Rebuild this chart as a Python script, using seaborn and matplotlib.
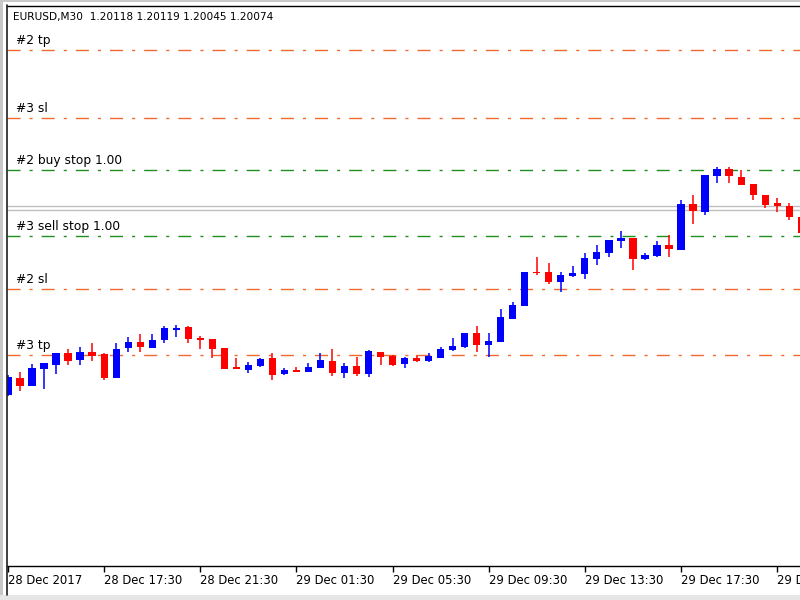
import matplotlib
matplotlib.use("Agg")
import matplotlib.pyplot as plt
import seaborn as sns
import pandas as pd
from matplotlib.lines import Line2D
from matplotlib.patches import Rectangle

# ---- data (EURUSD M30) ----
opens = [1.19519, 1.19570, 1.19546, 1.19597, 1.19609, 1.19645, 1.19624, 1.19648, 1.19642, 1.19570,
         1.19660, 1.19678, 1.19660, 1.19684, 1.19714, 1.19723, 1.19690, 1.19687, 1.19660, 1.19603,
         1.19594, 1.19606, 1.19630, 1.19582, 1.19594, 1.19588, 1.19600, 1.19621, 1.19585, 1.19606,
         1.19582, 1.19648, 1.19636, 1.19612, 1.19630, 1.19621, 1.19630, 1.19654, 1.19663, 1.19705,
         1.19669, 1.19678, 1.19747, 1.19786, 1.19888, 1.19888, 1.19858, 1.19876, 1.19882, 1.19927,
         1.19945, 1.19981, 1.19990, 1.19927, 1.19936, 1.19969, 1.19954, 1.20092, 1.20068, 1.20176,
         1.20197, 1.20173, 1.20152, 1.20119, 1.20095, 1.20086, 1.20053]
highs = [1.19579, 1.19588, 1.19612, 1.19615, 1.19645, 1.19657, 1.19663, 1.19675, 1.19645, 1.19675,
         1.19693, 1.19702, 1.19702, 1.19726, 1.19729, 1.19726, 1.19696, 1.19687, 1.19660, 1.19630,
         1.19618, 1.19630, 1.19645, 1.19600, 1.19603, 1.19615, 1.19645, 1.19657, 1.19615, 1.19633,
         1.19654, 1.19648, 1.19639, 1.19633, 1.19639, 1.19645, 1.19663, 1.19690, 1.19705, 1.19726,
         1.19705, 1.19777, 1.19798, 1.19888, 1.19933, 1.19915, 1.19888, 1.19906, 1.19945, 1.19969,
         1.19984, 1.20011, 1.19990, 1.19945, 1.19981, 1.19999, 1.20104, 1.20119, 1.20179, 1.20203,
         1.20203, 1.20194, 1.20152, 1.20119, 1.20110, 1.20095, 1.20053]
lows = [1.19516, 1.19531, 1.19546, 1.19537, 1.19582, 1.19609, 1.19609, 1.19621, 1.19564, 1.19570,
        1.19648, 1.19648, 1.19660, 1.19675, 1.19693, 1.19675, 1.19657, 1.19630, 1.19597, 1.19597,
        1.19585, 1.19603, 1.19564, 1.19579, 1.19588, 1.19588, 1.19600, 1.19576, 1.19570, 1.19576,
        1.19573, 1.19609, 1.19606, 1.19600, 1.19618, 1.19618, 1.19630, 1.19651, 1.19660, 1.19648,
        1.19633, 1.19678, 1.19747, 1.19786, 1.19879, 1.19852, 1.19828, 1.19873, 1.19867, 1.19909,
        1.19933, 1.19960, 1.19894, 1.19924, 1.19933, 1.19933, 1.19954, 1.20032, 1.20059, 1.20155,
        1.20155, 1.20149, 1.20104, 1.20080, 1.20068, 1.20044, 1.19999]
closes = [1.19573, 1.19546, 1.19600, 1.19615, 1.19645, 1.19621, 1.19648, 1.19636, 1.19570, 1.19657,
          1.19678, 1.19663, 1.19684, 1.19720, 1.19720, 1.19687, 1.19684, 1.19657, 1.19597, 1.19597,
          1.19609, 1.19627, 1.19579, 1.19594, 1.19588, 1.19603, 1.19624, 1.19585, 1.19606, 1.19582,
          1.19651, 1.19633, 1.19609, 1.19630, 1.19621, 1.19636, 1.19657, 1.19666, 1.19705, 1.19669,
          1.19681, 1.19753, 1.19789, 1.19888, 1.19885, 1.19858, 1.19879, 1.19885, 1.19930, 1.19948,
          1.19984, 1.19990, 1.19927, 1.19939, 1.19969, 1.19957, 1.20092, 1.20071, 1.20179, 1.20197,
          1.20176, 1.20149, 1.20119, 1.20089, 1.20086, 1.20053, 1.20005]

tick_bars = [0, 8, 16, 24, 32, 40, 48, 56, 64]
tick_labels = ["28 Dec 2017", "28 Dec 17:30", "28 Dec 21:30", "29 Dec 01:30", "29 Dec 05:30",
               "29 Dec 09:30", "29 Dec 13:30", "29 Dec 17:30", "29 Dec 21:30"]

order_names = ["#2 tp", "#3 sl", "#2 buy stop 1.00", "#3 sell stop 1.00", "#2 sl", "#3 tp"]
order_prices = [1.20554, 1.20350, 1.20194, 1.19996, 1.19837, 1.19639]
order_kinds = ["level", "level", "pending", "pending", "level", "level"]

bid_price = 1.20074
ask_price = 1.20086
header = "EURUSD,M30  1.20118 1.20119 1.20045 1.20074"

# ---- style ----
sns.set_style("white")
plt.rcParams["font.family"] = ["DejaVu Sans"]

df = pd.DataFrame({"open": opens, "high": highs, "low": lows, "close": closes})
df["bar"] = range(len(df))
df["bull"] = df["close"] >= df["open"]
df["color"] = df["bull"].map({True: "#0000ff", False: "#ff0000"})

fig = plt.figure(figsize=(8, 6), dpi=100)
fig.patch.set_facecolor("white")
W, H = 800.0, 600.0
ax = fig.add_axes([7 / W, 1 - 566 / H, 793 / W, 560 / H])
ax.set_facecolor("white")

level_color = "#ee6a2e"
pending_color = "#1f8f1f"
dash = (9.4, 6.5, 2.2, 6.5)

# order levels
for name, price, kind in zip(order_names, order_prices, order_kinds):
    col = pending_color if kind == "pending" else level_color
    ax.axhline(price, color=col, lw=1.0, dashes=dash, zorder=1)
    ax.annotate(name, xy=(9 / 793, price), xycoords=("axes fraction", "data"),
                xytext=(0, 2.0), textcoords="offset points", va="bottom", ha="left",
                fontsize=8.8, color="black", zorder=5)

# bid / ask lines
ax.axhline(ask_price, color="#c0c0c0", lw=1.0, zorder=1)
ax.axhline(bid_price, color="#c0c0c0", lw=1.0, zorder=1)

# candles
ax.vlines(df["bar"], df["low"], df["high"], colors=df["color"], lw=1.1, zorder=3)
body_bottom = df[["open", "close"]].min(axis=1)
body_height = (df["close"] - df["open"]).abs().clip(lower=0.00004)
ax.bar(df["bar"], body_height, bottom=body_bottom, width=0.6, color=df["color"],
       linewidth=0, zorder=4)

ax.set_xlim(-0.08, 65.9)
ax.set_ylim(1.19006, 1.20686)
ax.set_yticks([])
ax.set_xticks(tick_bars)
ax.set_xticklabels(tick_labels, ha="left", fontsize=8.4)
ax.tick_params(axis="x", direction="out", length=4, width=1, pad=2, colors="black",
               bottom=True)
for s in ["left", "right"]:
    ax.spines[s].set_visible(False)
ax.spines["bottom"].set_color("black")
ax.spines["bottom"].set_linewidth(1.0)
ax.spines["top"].set_color("black")
ax.spines["top"].set_linewidth(1.0)
ax.grid(False)

# window frame
fig.patches.append(Rectangle((0, 0), 3 / W, 1, transform=fig.transFigure,
                             facecolor="#c8c8c8", edgecolor="none", zorder=0))
fig.patches.append(Rectangle((0, 1 - 2 / H), 1, 2 / H, transform=fig.transFigure,
                             facecolor="#c8c8c8", edgecolor="none", zorder=0))
fig.patches.append(Rectangle((0, 0), 1, 5 / H, transform=fig.transFigure,
                             facecolor="#e6e6e6", edgecolor="none", zorder=0))
fig.lines.append(Line2D([6.5 / W, 6.5 / W], [5 / H, 1 - 5 / H], transform=fig.transFigure,
                        color="#202020", lw=1.2))

fig.text(13 / W, 1 - 17 / H, header, va="center", ha="left", fontsize=7.6, color="black")

fig.savefig("out.png", dpi=100, facecolor=fig.get_facecolor())
